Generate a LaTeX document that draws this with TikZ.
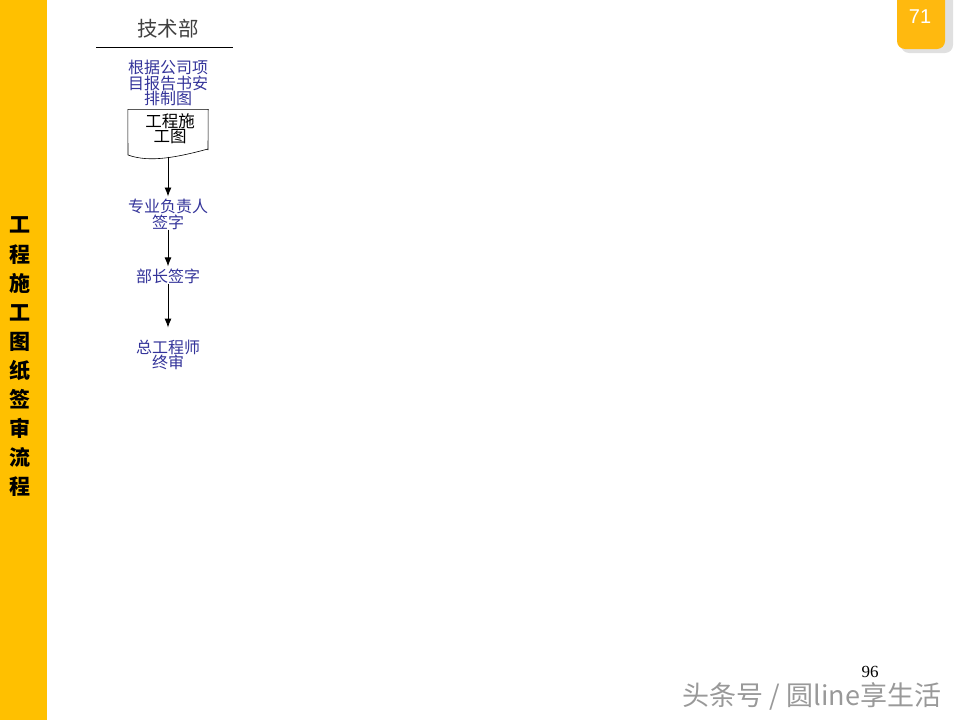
\documentclass[tikz,border=0pt]{standalone}
\usepackage{fontspec}
\setmainfont{Liberation Serif}
\newfontfamily\cjk{Noto Sans CJK SC}
\newfontfamily\arialfont{Liberation Sans}
\usetikzlibrary{arrows.meta}
\definecolor{baryellow}{RGB}{255,192,0}
\definecolor{tabyellow}{RGB}{255,185,15}
\definecolor{flowblue}{RGB}{51,51,153}
\begin{document}
\begin{tikzpicture}[x=1pt,y=-1pt,
  flowtxt/.style={font=\cjk\fontsize{16}{14.5}\selectfont, text=flowblue, align=center, inner sep=0pt},
  docbox/.style={minimum width=80pt, minimum height=47pt, inner sep=0pt},
  arr/.style={-{Latex[length=9pt,width=7pt]}, line width=0.9pt}]
\useasboundingbox (0,0) rectangle (960,720);
% side bar and page tab
\fill[baryellow] (0,0) rectangle (47,720);
\node[font=\cjk\bfseries\fontsize{21}{29.1}\selectfont, align=center, inner sep=0pt] (t) at (20,357)
  {工\\程\\施\\工\\图\\纸\\签\\审\\流\\程};
\fill[black, opacity=0.12, rounded corners=8pt] (901,0) -- (901,53) -- (953,53) -- (953,0);
\fill[tabyellow, rounded corners=8pt] (897,0) -- (897,49) -- (945,49) -- (945,0);
\node[font=\arialfont\fontsize{20}{20}\selectfont, text=white] (p) at (920,17) {71};
% swim lane
\node[font=\cjk\fontsize{20.5}{20.5}\selectfont, text=black!75] (0) at (168,29) {技术部};
\draw[line width=0.8pt] (96,47) -- (233,47);
\node[flowtxt] (1) at (168,83) {根据公司项\\目报告书安\\排制图};
\node[docbox] (2) at (168,133) {};
\draw[line width=0.6pt] (208,150) -- (2.north east) -- (2.north west) -- (128,155)
  .. controls (150,163) and (178,157) .. (208,149);
\node[font=\cjk\fontsize{16.5}{15}\selectfont, align=center, inner sep=0pt] at (170,128.5) {工程施\\工图};
\node[flowtxt] (3) at (168,214) {专业负责人\\签字};
\node[flowtxt] (4) at (168,276) {部长签字};
\node[flowtxt] (5) at (168,355) {总工程师\\终审};
\draw[arr] (2.south) -- ([yshift=2pt]3.north);
\draw[arr] (3.south) -- ([yshift=2pt]4.north);
\draw[arr] (4.south) -- ([yshift=12pt]5.north);
% footer
\node[font=\fontsize{17}{17}\selectfont, inner sep=0pt] (n) at (870,672) {96};
\node[font=\cjk\fontsize{27}{27}\selectfont, text=black!40, inner sep=0pt] (w) at (812,696) {头条号 / 圆line享生活};
\end{tikzpicture}
\end{document}
